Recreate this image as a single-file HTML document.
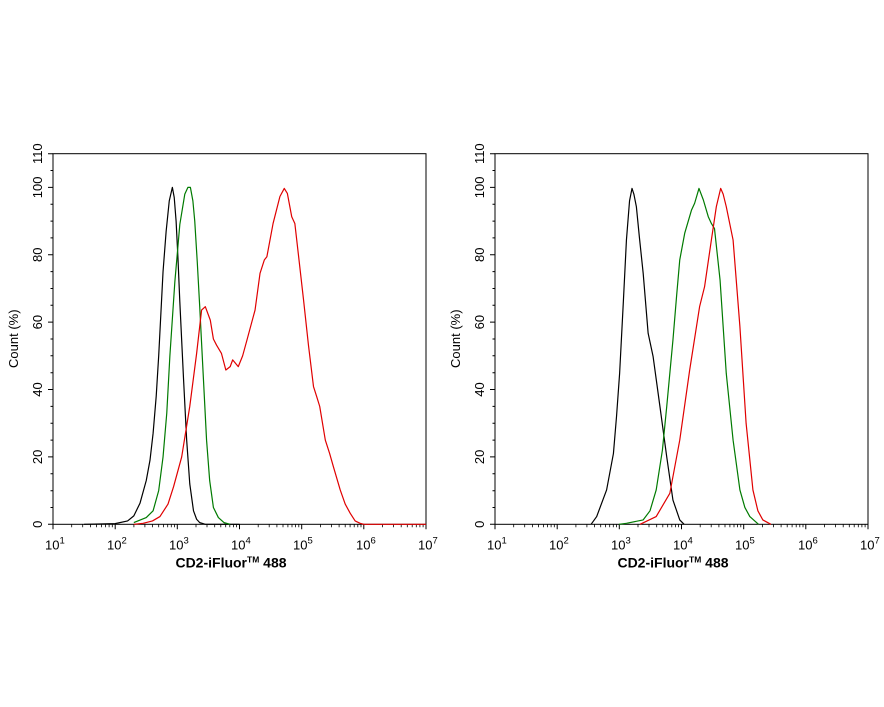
<!DOCTYPE html>
<html><head><meta charset="utf-8"><style>
body{margin:0;background:#fff}
svg{display:block;font-family:"Liberation Sans",Arial,sans-serif}
</style></head><body>
<svg width="884" height="707" viewBox="0 0 884 707" xmlns="http://www.w3.org/2000/svg">
<defs>
<g id="axes">
  <rect x="0" y="0" width="373" height="370.6" fill="none" stroke="#000" stroke-width="1"/>
  <g stroke="#000" stroke-width="1">
    <path d="M0 370.6h-5M0 303.2h-5M0 235.8h-5M0 168.4h-5M0 101.1h-5M0 33.7h-5M0 0h-5"/>
    <path d="M0 353.8h-2.5M0 337h-2.5M0 320h-2.5M0 286.4h-2.5M0 269.5h-2.5M0 252.7h-2.5M0 219h-2.5M0 202.1h-2.5M0 185.3h-2.5M0 151.6h-2.5M0 134.8h-2.5M0 117.9h-2.5M0 84.2h-2.5M0 67.4h-2.5M0 50.5h-2.5M0 16.8h-2.5"/>
    <path d="M0 370.6v5M62.2 370.6v5M124.3 370.6v5M186.5 370.6v5M248.7 370.6v5M310.8 370.6v5M373 370.6v5"/>
  </g>
  <g stroke="#000" stroke-width="0.8" id="minor">
    <path d="M18.7 370.6v3M29.7 370.6v3M37.4 370.6v3M43.5 370.6v3M48.4 370.6v3M52.5 370.6v3M56.1 370.6v3M59.3 370.6v3"/>
  </g>
  <use href="#minor" x="62.2"/><use href="#minor" x="124.3"/><use href="#minor" x="186.5"/><use href="#minor" x="248.7"/><use href="#minor" x="310.8"/>
  <g font-size="13" fill="#000">
    <g text-anchor="middle">
      <text transform="translate(-11,370.6) rotate(-90)">0</text>
      <text transform="translate(-11,303.2) rotate(-90)">20</text>
      <text transform="translate(-11,235.8) rotate(-90)">40</text>
      <text transform="translate(-11,168.4) rotate(-90)">60</text>
      <text transform="translate(-11,101.1) rotate(-90)">80</text>
      <text transform="translate(-11,33.7) rotate(-90)">100</text>
      <text transform="translate(-11,0) rotate(-90)">110</text>
      <text transform="translate(-35,185) rotate(-90)" font-size="13">Count  (%)</text>
    </g>
    <g font-size="13">
      <text x="-8" y="396">10<tspan font-size="9.5" dy="-6">1</tspan></text>
      <text x="54" y="396">10<tspan font-size="9.5" dy="-6">2</tspan></text>
      <text x="116" y="396">10<tspan font-size="9.5" dy="-6">3</tspan></text>
      <text x="178" y="396">10<tspan font-size="9.5" dy="-6">4</tspan></text>
      <text x="240" y="396">10<tspan font-size="9.5" dy="-6">5</tspan></text>
      <text x="303" y="396">10<tspan font-size="9.5" dy="-6">6</tspan></text>
      <text x="365" y="396">10<tspan font-size="9.5" dy="-6">7</tspan></text>
    </g>
    <text x="178" y="414" font-size="14" font-weight="bold" text-anchor="middle">CD2-iFluor<tspan font-size="8.5" dy="-5">TM</tspan><tspan dy="5"> 488</tspan></text>
  </g>
</g>
</defs>

<use href="#axes" x="53" y="153.7"/>
<use href="#axes" x="495" y="153.7"/>

<g transform="translate(53,524.3) scale(62.17,-3.369) translate(-1,0)" fill="none" stroke-width="1.2" stroke-linejoin="round">
  <polyline vector-effect="non-scaling-stroke" stroke="#000" points="1.5,0 2.0,0.2 2.2,1 2.3,2.5 2.4,6.3 2.5,13 2.56,19 2.61,27 2.66,38 2.7,50 2.77,75 2.82,87 2.87,96 2.92,100 2.95,97 2.98,90 3.01,79 3.04,66 3.1,43 3.15,25 3.2,12 3.26,4 3.31,1.5 3.36,0.5 3.45,0 4,0"/>
  <polyline vector-effect="non-scaling-stroke" stroke="#007a00" points="2.3,0.5 2.5,2 2.61,4 2.7,10 2.77,20 2.83,33 2.88,50 2.96,72 3.04,89 3.12,98 3.17,100 3.21,100 3.25,96 3.28,90 3.32,78 3.36,64.6 3.42,43 3.47,25 3.52,13 3.58,5 3.66,2 3.75,0.5 3.85,0"/>
  <polyline vector-effect="non-scaling-stroke" stroke="#e00000" points="2.3,0 2.45,0.3 2.6,1 2.72,2.3 2.85,6 2.94,11.2 3.07,20 3.2,35 3.31,50.7 3.39,63.6 3.45,64.6 3.53,60.6 3.58,55 3.63,53.2 3.71,50.7 3.78,45.8 3.85,46.8 3.89,48.8 3.98,46.8 4.05,50 4.12,54.7 4.25,63.6 4.33,74.5 4.4,78.5 4.44,79.4 4.54,89.3 4.65,97.3 4.72,99.7 4.77,98.2 4.84,91.3 4.89,89.3 4.96,78 5.03,66.6 5.11,53 5.19,40.9 5.24,38 5.29,35 5.38,25 5.45,21 5.51,17.1 5.62,10.2 5.7,6 5.78,3.3 5.86,1 5.94,0.3 6.0,0 7,0"/>
</g>

<g transform="translate(495,524.3) scale(62,-3.369) translate(-1,0)" fill="none" stroke-width="1.2" stroke-linejoin="round">
  <polyline vector-effect="non-scaling-stroke" stroke="#000" points="2.55,0 2.64,2.3 2.8,10.2 2.91,21 2.96,32 3.01,44.8 3.07,66 3.12,84.4 3.17,96 3.21,99.7 3.24,98 3.28,94.3 3.33,85 3.39,74.5 3.47,56.7 3.55,49.8 3.66,35 3.77,20 3.87,7.2 3.98,1.3 4.05,0"/>
  <polyline vector-effect="non-scaling-stroke" stroke="#007a00" points="3.0,0 3.12,0.3 3.39,1.3 3.5,4 3.6,10.2 3.7,22 3.77,35 3.87,54.7 3.93,68 3.98,78.5 4.06,86.4 4.17,93.3 4.22,95.3 4.29,99.7 4.36,96.3 4.44,91.3 4.49,89.3 4.54,87.8 4.63,72.5 4.73,44.8 4.84,25 4.95,10.2 5.03,5 5.11,2.3 5.25,0"/>
  <polyline vector-effect="non-scaling-stroke" stroke="#e00000" points="3.34,0 3.6,2.3 3.82,9.2 3.98,25 4.14,45.8 4.3,64.6 4.38,70.5 4.49,84.4 4.57,94.3 4.64,99.7 4.68,98 4.73,94.3 4.84,84.4 4.95,58.7 5.05,30 5.16,10.2 5.24,4 5.32,1.3 5.45,0"/>
</g>
</svg>
</body></html>
